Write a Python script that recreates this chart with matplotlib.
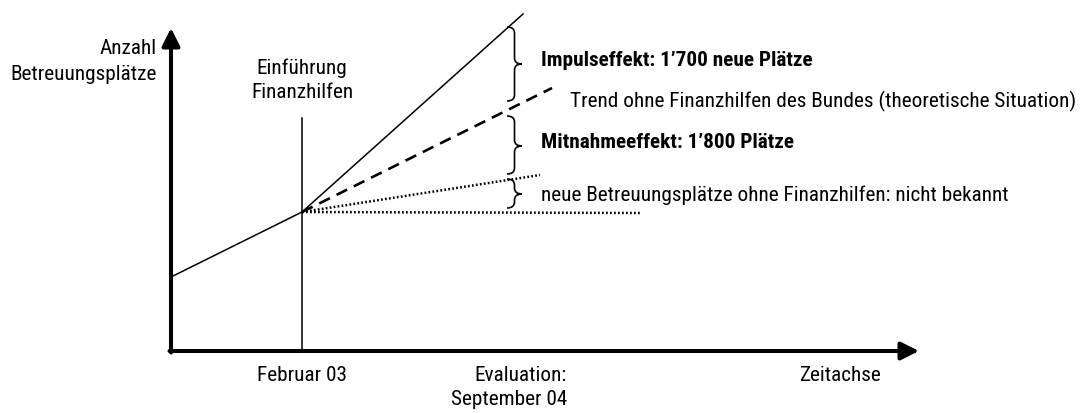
import matplotlib
matplotlib.use("Agg")
import matplotlib.pyplot as plt
from matplotlib.path import Path
from matplotlib.patches import PathPatch
from matplotlib import font_manager

# pick a narrow sans font if one is installed, otherwise a regular one at a smaller size
installed = {f.name for f in font_manager.fontManager.ttflist}
narrow = [n for n in ['Liberation Sans Narrow', 'Arial Narrow', 'Roboto Condensed',
                      'Open Sans Condensed'] if n in installed]
if narrow:
    plt.rcParams['font.family'] = [narrow[0], 'DejaVu Sans']
    fs = 16 if narrow[0] in ('Liberation Sans Narrow', 'Arial Narrow') else 15.3
else:
    plt.rcParams['font.family'] = ['Liberation Sans', 'DejaVu Sans']
    fs = 13.2

# ---- data (conceptual units: time on x, places on y; origin = axes corner) ----
pre_x = [0, 131]
pre_y = [74, 139]
aid_x = [131, 352]
aid_y = [139, 337]
trend_x = [131, 381]
trend_y = [139, 263]
low_x = [131, 369]
low_y = [139, 176]
flat_x = [131, 470]
flat_y = [139, 138]
intro_x = 131
intro_top = 233
yaxis_top = 323
xaxis_end = 748

# braces: (bottom, top, tip)
brace_x0 = 336
brace_w = 15
braces = [(250, 324, 287), (177, 235, 205), (143, 172, 157)]

labels_right = [
    ("Impulseffekt: 1\u2019700 neue Plätze", 370, 291, 'bold'),
    ("Trend ohne Finanzhilfen des Bundes (theoretische Situation)", 399, 251, 'normal'),
    ("Mitnahmeeffekt: 1\u2019800 Plätze", 370, 209, 'bold'),
    ("neue Betreuungsplätze ohne Finanzhilfen: nicht bekannt", 370, 157, 'normal'),
]

fig = plt.figure(figsize=(10.89, 4.14), dpi=100)
ax = fig.add_axes([0, 0, 1, 1])
ax.set_xlim(-171, 1089 - 171)
ax.set_ylim(-(414 - 352), 352)
ax.axis('off')

# axes arrows
arrow_kw = dict(arrowstyle='-|>,head_length=0.9,head_width=0.45', lw=2.9,
                color='black', shrinkA=0, shrinkB=0, mutation_scale=12)
ax.annotate('', xy=(0, yaxis_top), xytext=(0, -1.5), arrowprops=arrow_kw)
ax.annotate('', xy=(xaxis_end, 0), xytext=(-1.5, 0), arrowprops=arrow_kw)

# introduction line
ax.plot([intro_x, intro_x], [0, intro_top], color='black', lw=1.1)

# lines
ax.plot(pre_x, pre_y, color='black', lw=1.1)
ax.plot(aid_x, aid_y, color='black', lw=1.1)
ax.plot(trend_x, trend_y, color='black', lw=1.9, linestyle=(0, (4.5, 2.8)))
ax.plot(low_x, low_y, color='black', lw=1.8, linestyle=(0, (0.7, 0.9)))
ax.plot(flat_x, flat_y, color='black', lw=1.8, linestyle=(0, (0.7, 0.9)))

# braces
def brace(x0, w, ybot, ytop, ytip, r=6):
    xm = x0 + w * 0.5
    verts = [(x0, ytop), (xm, ytop), (xm, ytop - r),
             (xm, ytip + r), (xm, ytip), (x0 + w, ytip),
             (xm, ytip), (xm, ytip - r),
             (xm, ybot + r), (xm, ybot), (x0, ybot)]
    codes = [Path.MOVETO, Path.CURVE3, Path.CURVE3,
             Path.LINETO, Path.CURVE3, Path.CURVE3,
             Path.CURVE3, Path.CURVE3,
             Path.LINETO, Path.CURVE3, Path.CURVE3]
    ax.add_patch(PathPatch(Path(verts, codes), fill=False, lw=1.2, edgecolor='black'))

for b in braces:
    brace(brace_x0, brace_w, b[0], b[1], b[2])

for txt, x, y, wt in labels_right:
    ax.text(x, y, txt, ha='left', va='center', fontsize=fs, fontweight=wt)

# other texts
ax.text(-14, 303, "Anzahl", ha='right', va='center', fontsize=fs)
ax.text(-14, 278, "Betreuungsplätze", ha='right', va='center', fontsize=fs)
ax.text(intro_x, 284, "Einführung", ha='center', va='center', fontsize=fs)
ax.text(intro_x, 259, "Finanzhilfen", ha='center', va='center', fontsize=fs)
ax.text(intro_x, -24, "Februar 03", ha='center', va='center', fontsize=fs)
ax.text(396, -24, "Evaluation:", ha='right', va='center', fontsize=fs)
ax.text(396, -48, "September 04", ha='right', va='center', fontsize=fs)
ax.text(669, -24, "Zeitachse", ha='center', va='center', fontsize=fs)

fig.savefig("out.png", dpi=100)
